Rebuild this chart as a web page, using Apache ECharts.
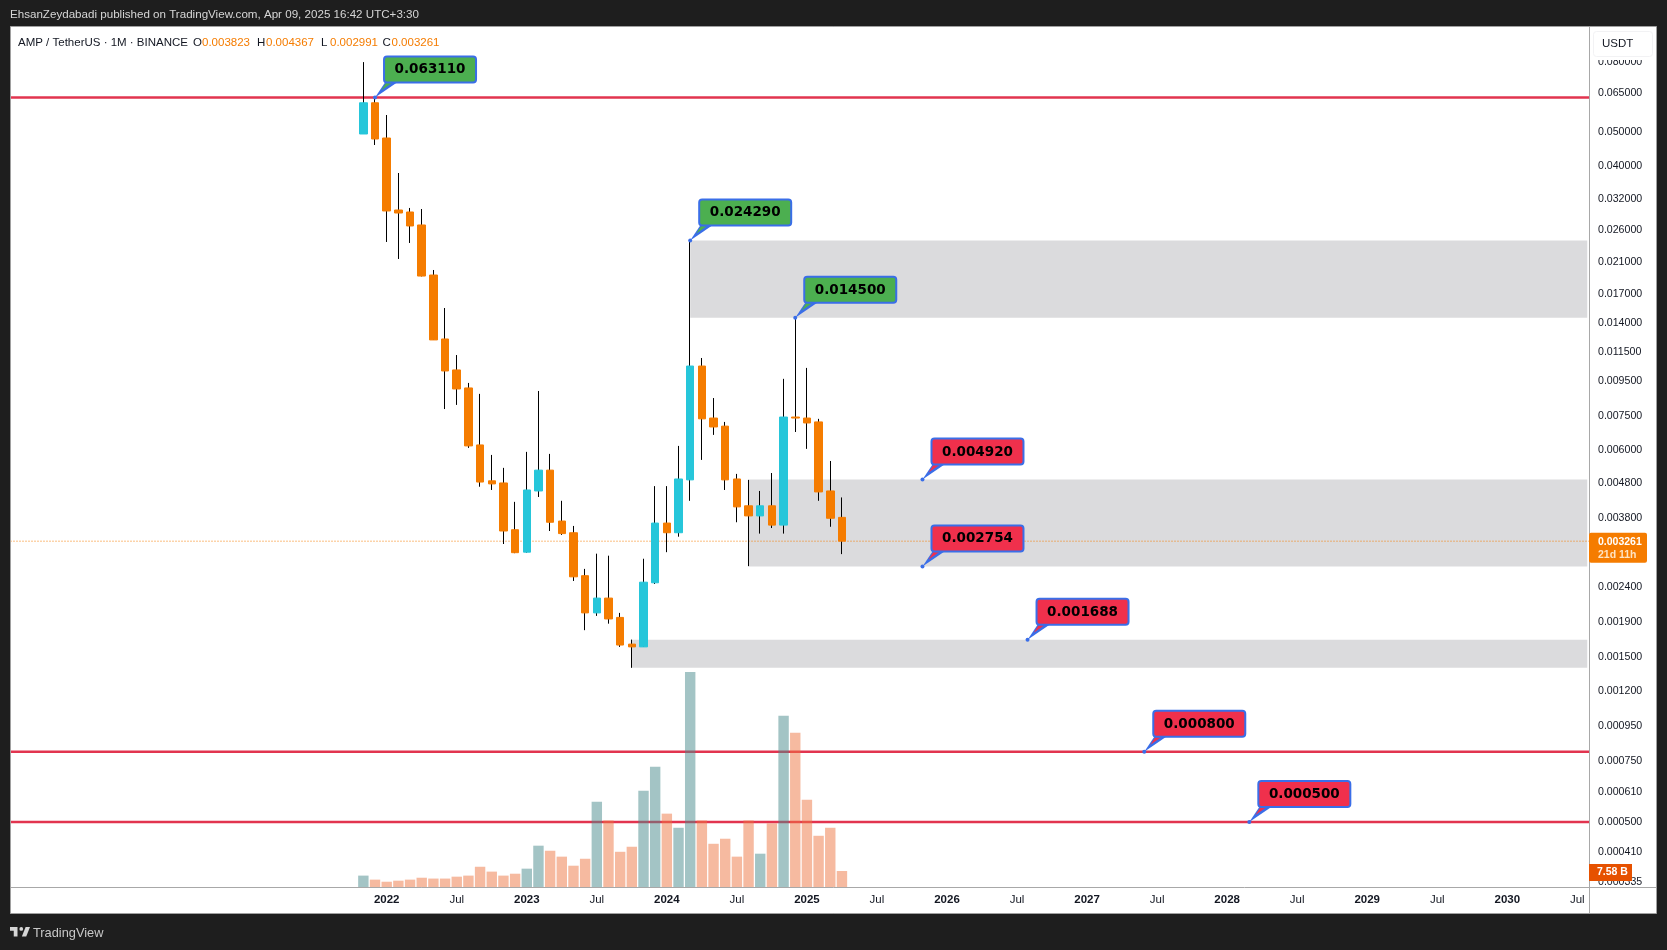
<!DOCTYPE html>
<html><head><meta charset="utf-8">
<style>html,body{margin:0;padding:0;background:#1e1e1e}#c{width:1667px;height:950px}</style>
<script src="https://cdn.jsdelivr.net/npm/echarts@6/dist/echarts.min.js"></script>
</head><body><div id="c"></div>
<script>
const firstCandleIndex = 31;
const open_  = [.04944,.0609,.04813,.02976,.02937,.02693,.01928,.01258,.01023,.00907,.0062,.00488,.00481,.00352,.00303,.00456,.00524,.00373,.00345,.00259,.00202,.00223,.00196,.00164,.00161,.00247,.00368,.00345,.00491,.0105,.00742,.00703,.00494,.00413,.00386,.00413,.00363,.00747,.00742,.00723,.00456,.003823];
const close_ = [.0609,.04781,.02957,.02917,.02675,.01915,.0125,.01016,.00901,.00616,.00484,.00478,.00349,.00302,.00459,.00524,.0037,.00343,.00257,.00202,.00223,.00194,.00163,.00161,.00248,.00368,.00345,.00494,.0105,.00738,.00699,.00491,.0041,.00386,.00413,.00363,.00747,.00742,.00718,.00453,.0038,.003261];
const low_   = [.04944,.04594,.02404,.02146,.02388,.0191,.0125,.00788,.0081,.00608,.00469,.00459,.0032,.00301,.00302,.00438,.00349,.0034,.0025,.0018,.00198,.00188,.00161,.0014,.00161,.00245,.00303,.00336,.00427,.00561,.00663,.00459,.0037,.00276,.00343,.00356,.00343,.00676,.00604,.00427,.00359,.002991];
const high_  = [.0799,.06311,.05612,.0381,.03017,.02996,.01994,.01547,.0113,.00938,.00872,.0058,.00532,.00424,.00592,.00889,.00584,.00427,.00361,.00271,.003,.00296,.00202,.00169,.0029,.00471,.00471,.00616,.02429,.01108,.00848,.00723,.00511,.00491,.00456,.00514,.00964,.0145,.01037,.00738,.00557,.004367];
const volumeB = [5.4,3.5,2.5,3.0,3.5,4.4,4.0,4.0,4.9,5.4,9.6,7.3,5.4,6.3,8.7,19.6,17.2,14.4,10.1,13.4,40.4,31.6,16.7,19.1,45.7,57,34.8,28.1,102,31.6,20.5,22.9,14.4,31.6,15.8,30.2,81.2,73.2,41.4,24.3,28.1,7.58];
const priceTicks = [0.08,0.065,0.05,0.04,0.032,0.026,0.021,0.017,0.014,0.0115,0.0095,0.0075,0.006,0.0048,0.0038,0.0024,0.0019,0.0015,0.0012,0.00095,0.00075,0.00061,0.0005,0.00041,0.000335];
const supportLines = [0.06311,0.0008,0.0005];
const zoneStart = [59,64,54];
const zoneTop = [0.02429,0.00492,0.001688];
const zoneBottom = [0.0145,0.002754,0.0014];
const ZONE_END = 135.85;
const calloutPos = [32,59,68,78.9,78.9,87.9,97.9,106.9];
const calloutPrice = [0.06311,0.02429,0.0145,0.00492,0.002754,0.001688,0.0008,0.0005];
const calloutKind = ['g','g','g','r','r','r','r','r'];
const lastPrice = 0.003261, lastVolumeText = '7.58 B', countdown = '21d 11h';
const legendPairs = [['O','0.003823'],['H','0.004367'],['L','0.002991'],['C','0.003261']];

const categories = [];
for (let i = 0; i < 137; i++) {
  const t = 2019*12 + 3 + i;
  categories.push(Math.floor(t/12) + '-' + String(t%12+1).padStart(2,'0'));
}
const FIRST_LABEL = categories.indexOf('2022-01');
const ORANGE='#f57c00', CYAN='#26c6da';
const candleRows = open_.map((o,i)=>[firstCandleIndex+i,o,close_[i],low_[i],high_[i]]);
const bodyRows = open_.map((o,i)=>[firstCandleIndex+i,o,close_[i],Math.min(o,close_[i]),Math.max(o,close_[i])]);
const volRows = volumeB.map((v,i)=>({value:[firstCandleIndex+i,v],itemStyle:{color: close_[i]>open_[i]?'#47898b':'#ed7541',opacity:.5}}));

function coordAt(api, x, y){
  const f = Math.floor(x), a = api.coord([f, y]), b = api.coord([f+1, y]);
  return [a[0] + (b[0]-a[0])*(x-f), a[1]];
}
function zoneItem(params, api){
  const a = api.coord([api.value(0), api.value(1)]);
  const b = coordAt(api, ZONE_END, zoneBottom[params.dataIndex]);
  return {type:'rect',shape:{x:a[0],y:a[1],width:b[0]-a[0],height:b[1]-a[1]},style:{fill:'#dbdbdd'}};
}
function lineItem(stroke, width, dash){
  return function(params, api){
    const y = api.coord([0, api.value(1)])[1];
    const cs = params.coordSys;
    return {type:'line',shape:{x1:cs.x,y1:y,x2:cs.x+cs.width,y2:y},style:{stroke:stroke,lineWidth:width,lineDash:dash||null}};
  };
}
function calloutItem(params, api){
  const i = params.dataIndex;
  const p = coordAt(api, calloutPos[i], api.value(1));
  const fill = calloutKind[i]==='g' ? '#4caf50' : '#f0304c';
  const blue = '#3a6ee8';
  const bx=p[0]+9, by=p[1]-41;
  return {type:'group',children:[
    {type:'polygon',shape:{points:[[p[0],p[1]],[bx+1,by+26],[bx+13,by+26]]},style:{fill:blue}},
    {type:'polygon',shape:{points:[[p[0]+6,p[1]-7],[bx+3,by+25],[bx+10,by+25]]},style:{fill:fill}},
    {type:'circle',shape:{cx:p[0],cy:p[1],r:2},style:{fill:blue}},
    {type:'rect',shape:{x:bx,y:by,width:92,height:26,r:3},style:{fill:fill,stroke:blue,lineWidth:2}},
    {type:'text',x:bx+46,y:by+13.5,style:{text:api.value(1).toFixed(6),fill:'#000',font:'bold 13.5px "DejaVu Sans"',align:'center',verticalAlign:'middle'}}
  ]};
}
function priceTagItem(params, api){
  const p = api.coord([api.value(0), api.value(1)]);
  const x = params.coordSys.x + params.coordSys.width;
  return {type:'group',children:[
    {type:'rect',shape:{x:x,y:p[1]-8.5,width:58,height:30,r:2},style:{fill:ORANGE}},
    {type:'text',x:x+9,y:p[1]+1,style:{text:api.value(1).toFixed(6),fill:'#fff',font:'bold 10.5px "Liberation Sans"',verticalAlign:'middle'}},
    {type:'text',x:x+9,y:p[1]+14,style:{text:countdown,fill:'#ffe3c2',font:'bold 10.5px "Liberation Sans"',verticalAlign:'middle'}}
  ]};
}
function volTagItem(params, api){
  const p = api.coord([api.value(0), api.value(1)]);
  const x = params.coordSys.x + params.coordSys.width;
  return {type:'group',children:[
    {type:'rect',shape:{x:x,y:p[1]-7,width:43,height:17},style:{fill:'#e65100'}},
    {type:'text',x:x+8,y:p[1]+1.5,style:{text:lastVolumeText,fill:'#fff',font:'bold 10.5px "Liberation Sans"',verticalAlign:'middle'}}
  ]};
}
const W=1667,H=950;
const logoT = {x:8.75,y:923.25,scaleX:.625,scaleY:.625};
const gfx = [
  {type:'rect',z:-1,shape:{x:10.5,y:26.5,width:1646,height:887},style:{fill:'#fff',stroke:'#a0a0a0',lineWidth:1}},
  {type:'rect',z:50,shape:{x:0,y:0,width:10,height:H},style:{fill:'#1e1e1e'}},
  {type:'line',z:51,shape:{x1:10.5,y1:26.5,x2:10.5,y2:913.5},style:{stroke:'#a0a0a0',lineWidth:1}},
  {type:'line',z:3,shape:{x1:10.5,y1:887.5,x2:1656,y2:887.5},style:{stroke:'#a8a8a8',lineWidth:1}},
  {type:'line',z:3,shape:{x1:1589.5,y1:27,x2:1589.5,y2:913},style:{stroke:'#a8a8a8',lineWidth:1}},
  {type:'rect',z:30,shape:{x:1590,y:27,width:66,height:33},style:{fill:'#fff'}},
  {type:'rect',z:31,shape:{x:1593.5,y:31.5,width:59,height:25,r:3},style:{fill:'#fff',stroke:'#f2f2f4',lineWidth:1}},
  {type:'text',z:32,x:1602,y:44,style:{text:'USDT',fill:'#131722',font:'11.5px "Liberation Sans"',verticalAlign:'middle'}},
  {type:'text',z:32,x:10,y:15,style:{text:'EhsanZeydabadi published on TradingView.com, Apr 09, 2025 16:42 UTC+3:30',fill:'#d6d6d6',font:'11.6px "Liberation Sans"',verticalAlign:'middle'}},
  {type:'text',z:32,x:18,y:43,style:{text:'AMP / TetherUS · 1M · BINANCE',fill:'#131722',font:'11.5px "Liberation Sans"',verticalAlign:'middle'}},
  Object.assign({type:'polygon',z:32,shape:{points:[[14,6],[2,6],[2,12],[8,12],[8,21],[14,21]]},style:{fill:'#d6d6d6'}},logoT),
  Object.assign({type:'polygon',z:32,shape:{points:[[28,21],[21,21],[27,6],[34,6]]},style:{fill:'#d6d6d6'}},logoT),
  Object.assign({type:'circle',z:32,shape:{cx:20,cy:9,r:3},style:{fill:'#d6d6d6'}},logoT),
  {type:'text',z:32,x:33,y:933,style:{text:'TradingView',fill:'#c8c8c8',font:'12.8px "Liberation Sans"',verticalAlign:'middle'}}
];
const legendX=[193,257,321,382.5];
legendPairs.forEach((p,i)=>{
  gfx.push({type:'text',z:32,x:legendX[i],y:43,style:{text:p[0],fill:'#131722',font:'11.5px "Liberation Sans"',verticalAlign:'middle'}});
  gfx.push({type:'text',z:32,x:legendX[i]+9,y:43,style:{text:p[1],fill:ORANGE,font:'11.5px "Liberation Sans"',verticalAlign:'middle'}});
});

const chart = echarts.init(document.getElementById('c'),null,{renderer:'canvas',width:W,height:H});
chart.setOption({
  animation:false,backgroundColor:'#1e1e1e',graphic:{elements:gfx},
  grid:[{left:1.5,top:27,width:1587.5,height:860},{left:1.5,top:672,width:1587.5,height:215}],
  xAxis:[
    {type:'category',gridIndex:0,data:categories,boundaryGap:false,axisTick:{show:false},axisLine:{show:false},splitLine:{show:false},
     axisLabel:{show:true,margin:7,color:'#131722',hideOverlap:false,
       interval:(i,v)=>i>=FIRST_LABEL&&/-(01|07)$/.test(v),
       formatter:v=>v.endsWith('-01')?'{y|'+v.slice(0,4)+'}':'{m|Jul}',
       rich:{y:{fontFamily:'Liberation Sans',fontWeight:'bold',fontSize:11.5,color:'#131722'},m:{fontFamily:'Liberation Sans',fontSize:11.5,color:'#131722'}}}},
    {type:'category',gridIndex:1,data:categories,boundaryGap:false,show:false}
  ],
  yAxis:[
    {type:'log',gridIndex:0,position:'right',logBase:10,min:0.000324,max:0.101,axisTick:{show:false},axisLine:{show:false},splitLine:{show:false},minorTick:{show:false},
     axisLabel:{show:true,margin:9,color:'#131722',fontFamily:'Liberation Sans',fontSize:10.6,padding:[3,0,0,0],customValues:priceTicks,formatter:v=>Number(v).toFixed(6)}},
    {type:'value',gridIndex:1,min:0,max:102,show:false}
  ],
  series:[
    {type:'custom',name:'Zones',z:1,renderItem:zoneItem,encode:{x:0,y:1},data:zoneStart.map((s,i)=>[s,zoneTop[i]])},
    {type:'custom',name:'Levels',z:1,renderItem:lineItem('#e2344f',2.5),encode:{x:0,y:1},data:supportLines.map(v=>[0,v])},
    {type:'bar',name:'Volume',xAxisIndex:1,yAxisIndex:1,barWidth:10.4,z:2,data:volRows,encode:{x:0,y:1}},
    {type:'candlestick',name:'Wick',z:3,barWidth:1,encode:{x:0,y:[1,2,3,4]},data:candleRows,
     itemStyle:{color:'#000',color0:'#000',borderColor:'#000',borderColor0:'#000',borderWidth:1}},
    {type:'custom',name:'Last line',z:3,renderItem:lineItem(ORANGE,1,[1,2]),encode:{x:0,y:1},data:[[0,lastPrice]]},
    {type:'candlestick',name:'Body',z:4,barWidth:8,encode:{x:0,y:[1,2,3,4]},data:bodyRows,
     itemStyle:{color:CYAN,color0:ORANGE,borderColor:CYAN,borderColor0:ORANGE,borderWidth:1}},
    {type:'custom',name:'Callouts',z:10,renderItem:calloutItem,encode:{x:0,y:1},data:calloutPrice.map((p,i)=>[Math.round(calloutPos[i]),p])},
    {type:'custom',name:'Last price',z:20,renderItem:priceTagItem,encode:{x:0,y:1},data:[[firstCandleIndex+open_.length-1,lastPrice]]},
    {type:'custom',name:'Last volume',z:20,xAxisIndex:1,yAxisIndex:1,renderItem:volTagItem,encode:{x:0,y:1},data:[[firstCandleIndex+volumeB.length-1,volumeB[volumeB.length-1]]]}
  ]
});
</script></body></html>
